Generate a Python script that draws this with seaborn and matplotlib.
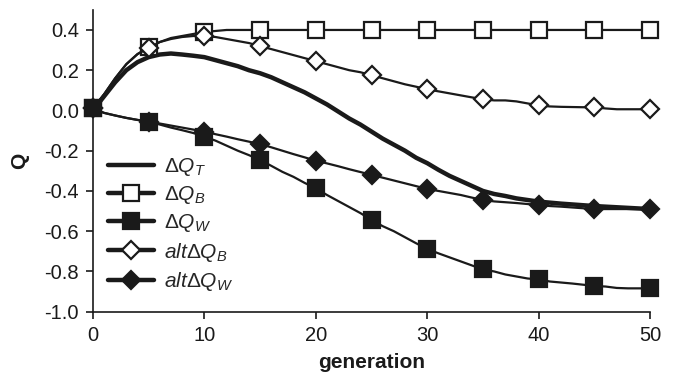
import numpy as np
import pandas as pd
import matplotlib
matplotlib.use("Agg")
import matplotlib.pyplot as plt
import seaborn as sns

generation = list(range(0, 51))

dQT = [0.0, 0.07, 0.14, 0.20, 0.24, 0.265, 0.278, 0.283, 0.278, 0.272,
       0.265, 0.25, 0.235, 0.22, 0.20, 0.185, 0.165, 0.14, 0.115, 0.09,
       0.06, 0.03, -0.005, -0.04, -0.07, -0.105, -0.14, -0.17, -0.20, -0.235,
       -0.262, -0.295, -0.325, -0.35, -0.375, -0.40, -0.415, -0.425, -0.437, -0.445,
       -0.453, -0.458, -0.463, -0.467, -0.471, -0.475, -0.478, -0.481, -0.484, -0.487,
       -0.49]

dQB = [0.01, 0.08, 0.16, 0.23, 0.28, 0.315, 0.34, 0.36, 0.37, 0.38,
       0.39, 0.395, 0.40, 0.40, 0.40, 0.40, 0.40, 0.40, 0.40, 0.40,
       0.40, 0.40, 0.40, 0.40, 0.40, 0.40, 0.40, 0.40, 0.40, 0.40,
       0.40, 0.40, 0.40, 0.40, 0.40, 0.40, 0.40, 0.40, 0.40, 0.40,
       0.40, 0.40, 0.40, 0.40, 0.40, 0.40, 0.40, 0.40, 0.40, 0.40,
       0.40]

dQW = [0.01, -0.012, -0.025, -0.037, -0.047, -0.055, -0.07, -0.085, -0.098, -0.112,
       -0.13, -0.15, -0.175, -0.20, -0.222, -0.246, -0.275, -0.305, -0.33, -0.36,
       -0.387, -0.42, -0.45, -0.48, -0.51, -0.544, -0.575, -0.60, -0.63, -0.66,
       -0.688, -0.71, -0.73, -0.75, -0.77, -0.79, -0.80, -0.815, -0.825, -0.835,
       -0.84, -0.85, -0.855, -0.86, -0.866, -0.872, -0.875, -0.882, -0.884, -0.884,
       -0.884]

alt_dQB = [0.01, 0.08, 0.16, 0.23, 0.28, 0.31, 0.34, 0.355, 0.365, 0.37,
           0.37, 0.365, 0.355, 0.345, 0.335, 0.32, 0.305, 0.29, 0.275, 0.26,
           0.245, 0.23, 0.215, 0.20, 0.19, 0.175, 0.16, 0.145, 0.13, 0.118,
           0.105, 0.095, 0.085, 0.075, 0.065, 0.056, 0.05, 0.05, 0.045, 0.035,
           0.025, 0.02, 0.018, 0.017, 0.016, 0.016, 0.01, 0.006, 0.006, 0.006,
           0.006]

alt_dQW = [0.01, -0.012, -0.025, -0.037, -0.047, -0.055, -0.065, -0.075, -0.085, -0.095,
           -0.105, -0.118, -0.13, -0.143, -0.155, -0.167, -0.183, -0.20, -0.217, -0.233,
           -0.25, -0.263, -0.277, -0.292, -0.306, -0.32, -0.334, -0.348, -0.362, -0.376,
           -0.39, -0.40, -0.41, -0.42, -0.433, -0.445, -0.452, -0.456, -0.46, -0.465,
           -0.47, -0.475, -0.478, -0.482, -0.486, -0.49, -0.49, -0.49, -0.49, -0.49,
           -0.49]

labels = [r'$\Delta Q_T$', r'$\Delta Q_B$', r'$\Delta Q_W$',
          r'$alt\Delta Q_B$', r'$alt\Delta Q_W$']

yticks = [-1.0, -0.8, -0.6, -0.4, -0.2, 0.0, 0.2, 0.4]
xticks = [0, 10, 20, 30, 40, 50]

sns.set_style("ticks")
plt.rcParams['font.family'] = ['Liberation Sans', 'DejaVu Sans']
plt.rcParams['mathtext.fontset'] = 'custom'
plt.rcParams['mathtext.rm'] = 'Liberation Sans'
plt.rcParams['mathtext.it'] = 'Liberation Sans:italic'
plt.rcParams['mathtext.bf'] = 'Liberation Sans:bold'

fig = plt.figure(figsize=(6.78, 3.86), dpi=100)
ax = fig.add_axes([0.137, 0.1925, 0.822, 0.782])

c = '#1a1a1a'
styles = [
    dict(lw=3.2, marker=None, mfc=c),
    dict(lw=1.6, marker='s', mfc='white', ms=11),
    dict(lw=1.6, marker='s', mfc=c, ms=11),
    dict(lw=1.6, marker='D', mfc='white', ms=9.5),
    dict(lw=1.6, marker='D', mfc=c, ms=9.5),
]
series = [dQT, dQB, dQW, alt_dQB, alt_dQW]

for vals, lab, st in zip(series, labels, styles):
    df = pd.DataFrame({'generation': generation, 'Q': vals})
    kw = dict(color=c, linewidth=st['lw'], label=lab, clip_on=False)
    if st['marker']:
        kw.update(marker=st['marker'], markevery=5, markersize=st['ms'],
                  markerfacecolor=st['mfc'], markeredgecolor=c, markeredgewidth=1.6)
    sns.lineplot(data=df, x='generation', y='Q', ax=ax, **kw)

ax.set_xlim(0, 50)
ax.set_ylim(-1.0, 0.5)
ax.set_xticks(xticks)
ax.set_yticks(yticks)
ax.set_yticklabels([f'{v:.1f}' for v in yticks])
ax.tick_params(labelsize=14.5, length=5, width=1.2, color=c, labelcolor=c, pad=5)
for s in ['top', 'right']:
    ax.spines[s].set_visible(False)
for s in ['left', 'bottom']:
    ax.spines[s].set_linewidth(1.2)
    ax.spines[s].set_color(c)

ax.set_xlabel('generation', fontsize=15, fontweight='bold', color=c, labelpad=6)
ax.set_ylabel('Q', fontsize=15, fontweight='bold', color=c, labelpad=11)

leg = ax.legend(loc='upper left', bbox_to_anchor=(-0.006, 0.578), frameon=False,
                fontsize=15, handlelength=2.2, handletextpad=0.45,
                labelspacing=0.3, numpoints=1)
for h in leg.legend_handles:
    h.set_linewidth(3.2)

fig.savefig('out.png', dpi=100)
